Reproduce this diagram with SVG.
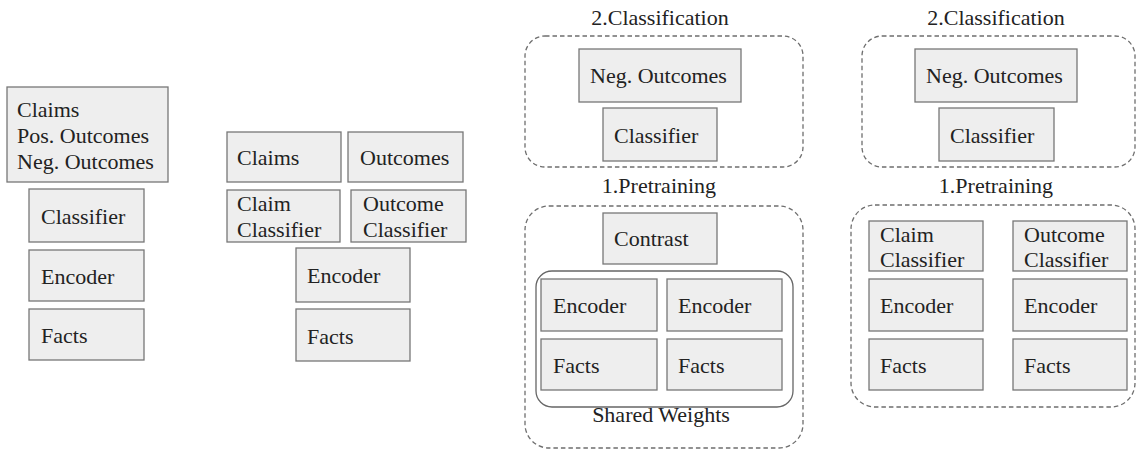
<svg xmlns="http://www.w3.org/2000/svg" width="1137" height="450" viewBox="0 0 1137 450">
<style>
.box{fill:#eeeeee;stroke:#777777;stroke-width:1.3}
.dash{fill:none;stroke:#6e6e6e;stroke-width:1.3;stroke-dasharray:4.5 3}
.solid{fill:none;stroke:#666666;stroke-width:1.3}
.c{text-anchor:middle}
</style>
<rect width="1137" height="450" fill="#ffffff"/>
<g id="connectors"/>
<g font-family="'Liberation Serif', 'Times New Roman', serif" font-size="22" fill="#222222">
<!-- Panel 1 -->
<g id="p1-input"><rect class="box" x="7" y="87" width="161" height="95"/><text x="17" y="117">Claims</text><text x="17" y="143">Pos. Outcomes</text><text x="17" y="169">Neg. Outcomes</text></g>
<g id="p1-classifier"><rect class="box" x="29" y="189" width="115" height="53"/><text x="41" y="224">Classifier</text></g>
<g id="p1-encoder"><rect class="box" x="29" y="250" width="115" height="51"/><text x="41" y="284">Encoder</text></g>
<g id="p1-facts"><rect class="box" x="29" y="309" width="115" height="51"/><text x="41" y="343">Facts</text></g>
<!-- Panel 2 -->
<g id="p2-claims"><rect class="box" x="227" y="132" width="114" height="50"/><text x="237" y="165">Claims</text></g>
<g id="p2-outcomes"><rect class="box" x="348" y="132" width="115" height="50"/><text x="360" y="165">Outcomes</text></g>
<g id="p2-claim-classifier"><rect class="box" x="227" y="190" width="113" height="52"/><text x="237" y="211">Claim</text><text x="237" y="237">Classifier</text></g>
<g id="p2-outcome-classifier"><rect class="box" x="351" y="190" width="115" height="52"/><text x="363" y="211">Outcome</text><text x="363" y="237">Classifier</text></g>
<g id="p2-encoder"><rect class="box" x="296" y="248" width="114" height="54"/><text x="307" y="283">Encoder</text></g>
<g id="p2-facts"><rect class="box" x="296" y="309" width="114" height="52"/><text x="307" y="344">Facts</text></g>
<!-- Panel 3 -->
<g id="p3-classification"><text class="c" x="660" y="25">2.Classification</text><rect class="dash" x="525" y="36" width="278" height="131" rx="20"/></g>
<g id="p3-neg"><rect class="box" x="579" y="49" width="162" height="53"/><text x="590" y="83">Neg. Outcomes</text></g>
<g id="p3-classifier"><rect class="box" x="603" y="108" width="114" height="53"/><text x="614" y="143">Classifier</text></g>
<g id="p3-pretraining"><text class="c" x="659" y="193">1.Pretraining</text><rect class="dash" x="525" y="206" width="278" height="242" rx="24"/></g>
<g id="p3-contrast"><rect class="box" x="603" y="213" width="114" height="51"/><text x="614" y="246">Contrast</text></g>
<g id="p3-shared"><rect class="solid" x="536" y="271" width="257" height="136" rx="16"/><text class="c" x="661" y="422">Shared Weights</text></g>
<g id="p3-encoder-l"><rect class="box" x="541" y="279" width="116" height="52"/><text x="553" y="313">Encoder</text></g>
<g id="p3-encoder-r"><rect class="box" x="667" y="279" width="115" height="52"/><text x="678" y="313">Encoder</text></g>
<g id="p3-facts-l"><rect class="box" x="541" y="339" width="116" height="51"/><text x="553" y="373">Facts</text></g>
<g id="p3-facts-r"><rect class="box" x="667" y="339" width="115" height="51"/><text x="678" y="373">Facts</text></g>
<!-- Panel 4 -->
<g id="p4-classification"><text class="c" x="996" y="25">2.Classification</text><rect class="dash" x="862" y="36" width="273" height="131" rx="20"/></g>
<g id="p4-neg"><rect class="box" x="915" y="49" width="162" height="53"/><text x="926" y="83">Neg. Outcomes</text></g>
<g id="p4-classifier"><rect class="box" x="939" y="108" width="115" height="53"/><text x="950" y="143">Classifier</text></g>
<g id="p4-pretraining"><text class="c" x="996" y="193">1.Pretraining</text><rect class="dash" x="851" y="205" width="284" height="202" rx="24"/></g>
<g id="p4-claim-classifier"><rect class="box" x="869" y="221" width="114" height="50"/><text x="880" y="242">Claim</text><text x="880" y="267">Classifier</text></g>
<g id="p4-outcome-classifier"><rect class="box" x="1013" y="221" width="114" height="50"/><text x="1024" y="242">Outcome</text><text x="1024" y="267">Classifier</text></g>
<g id="p4-encoder-l"><rect class="box" x="869" y="279" width="114" height="52"/><text x="880" y="313">Encoder</text></g>
<g id="p4-encoder-r"><rect class="box" x="1013" y="279" width="114" height="52"/><text x="1024" y="313">Encoder</text></g>
<g id="p4-facts-l"><rect class="box" x="869" y="339" width="114" height="51"/><text x="880" y="373">Facts</text></g>
<g id="p4-facts-r"><rect class="box" x="1013" y="339" width="114" height="51"/><text x="1024" y="373">Facts</text></g>
</g>
</svg>
